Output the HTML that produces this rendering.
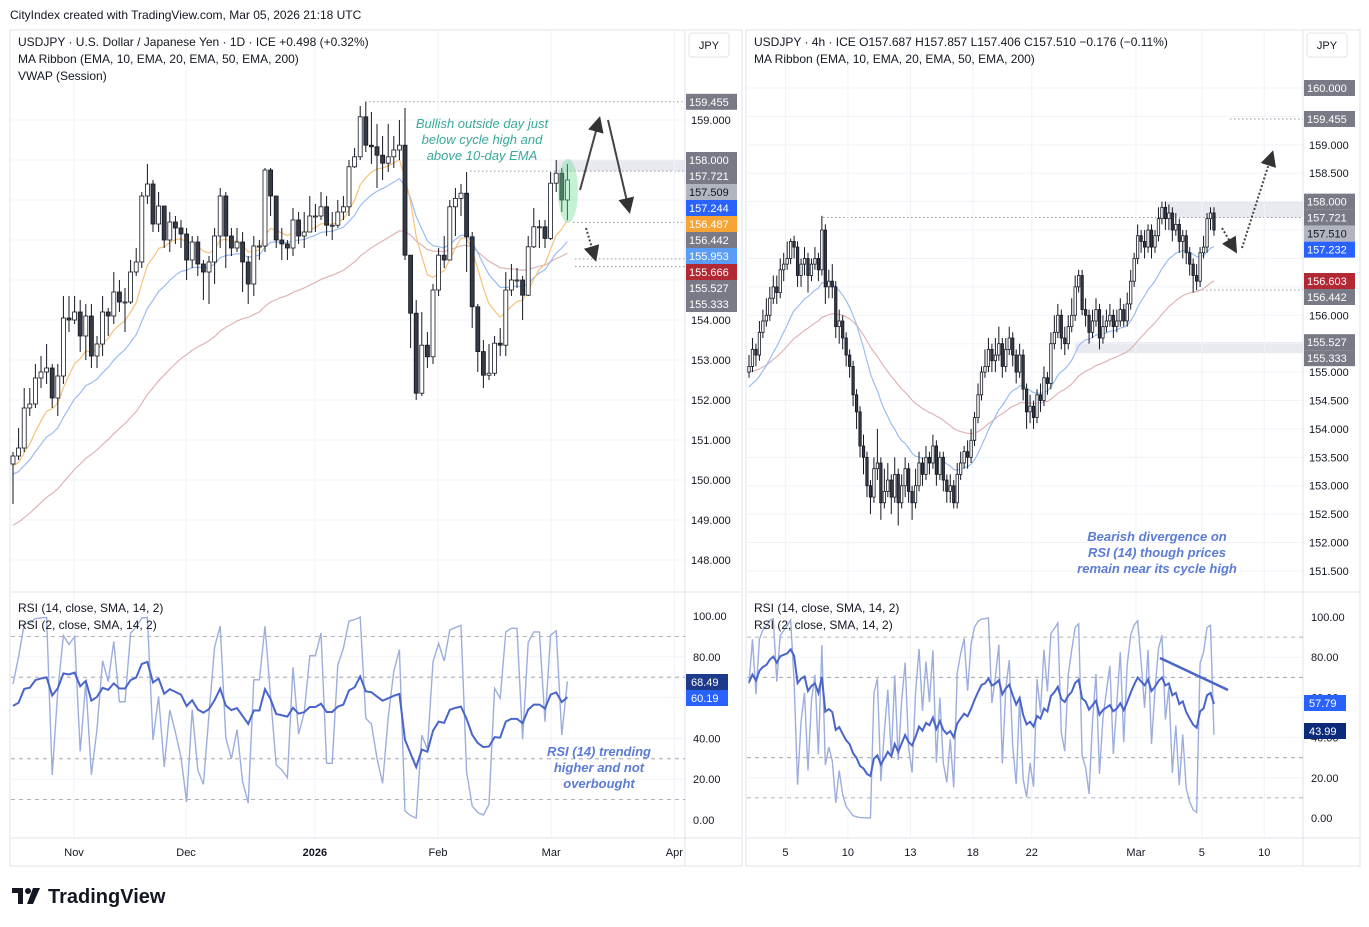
<!DOCTYPE html>
<html><head><meta charset="utf-8"><style>
html,body{margin:0;padding:0;background:#fff;}
svg{display:block;font-family:"Liberation Sans","DejaVu Sans",sans-serif;}
.t{font-size:12px;fill:#131722;}
.ax{font-size:11px;fill:#131722;}
</style></head><body>
<svg id="c" width="1369" height="927" viewBox="0 0 1369 927" xmlns="http://www.w3.org/2000/svg">
<text x="10" y="19" class="t">CityIndex created with TradingView.com, Mar 05, 2026 21:18 UTC</text>
<rect x="10" y="30" width="732" height="836" fill="none" stroke="#e0e3eb"/>
<rect x="746" y="30" width="614" height="836" fill="none" stroke="#e0e3eb"/>
<g id="grid"></g><g id="marks"></g><g id="over"></g>
<text x="18" y="46" class="t">USDJPY · U.S. Dollar / Japanese Yen · 1D · ICE  +0.498 (+0.32%)</text>
<text x="18" y="63" class="t">MA Ribbon (EMA, 10, EMA, 20, EMA, 50, EMA, 200)</text>
<text x="18" y="80" class="t">VWAP (Session)</text>
<text x="754" y="46" class="t">USDJPY · 4h · ICE  O157.687  H157.857  L157.406  C157.510  −0.176 (−0.11%)</text>
<text x="754" y="63" class="t">MA Ribbon (EMA, 10, EMA, 20, EMA, 50, EMA, 200)</text>
<text x="18" y="612" class="t">RSI (14, close, SMA, 14, 2)</text>
<text x="18" y="629" class="t">RSI (2, close, SMA, 14, 2)</text>
<text x="754" y="612" class="t">RSI (14, close, SMA, 14, 2)</text>
<text x="754" y="629" class="t">RSI (2, close, SMA, 14, 2)</text>
<g font-style="italic" font-size="13" fill="#3aa99a" text-anchor="middle">
<text x="482" y="128">Bullish outside day just</text><text x="482" y="144">below cycle high and</text><text x="482" y="160">above 10-day EMA</text></g>
<g font-style="italic" font-weight="bold" font-size="13" fill="#5b7bd5" text-anchor="middle">
<text x="599" y="756">RSI (14) trending</text><text x="599" y="772">higher and not</text><text x="599" y="788">overbought</text></g>
<g font-style="italic" font-weight="bold" font-size="13" fill="#5b7bd5" text-anchor="middle">
<text x="1157" y="541">Bearish divergence on</text><text x="1157" y="557">RSI (14) though prices</text><text x="1157" y="573">remain near its cycle high</text></g>
<g>
<rect x="12" y="888" width="11" height="5" fill="#131722"/><rect x="18" y="888" width="5" height="16" fill="#131722"/>
<circle cx="28" cy="891" r="3" fill="#131722"/><polygon points="33,888 40,888 33,904 27,904" fill="#131722"/>
<text x="48" y="903" font-size="20" font-weight="bold" fill="#131722">TradingView</text></g>
</svg>
<script>
// ---------- data ----------
const closeL=[150.6,150.8,151.8,151.9,152.55,152.7,152.8,152.05,152.6,154.05,154.0,154.2,153.6,154.1,153.1,153.4,154.2,154.1,154.7,154.45,154.45,155.2,155.45,157.1,157.4,156.4,156.85,156.0,156.45,156.3,156.15,155.5,155.95,155.4,155.2,155.45,156.1,157.1,156.1,155.8,155.95,155.45,154.9,155.85,155.85,157.75,157.1,156.0,155.9,155.8,156.5,156.1,156.2,156.6,156.6,156.83,156.37,156.37,156.7,156.83,157.83,158.08,159.08,158.37,158.33,158.12,157.92,158.08,158.25,158.37,155.62,154.17,152.17,153.37,153.08,154.75,155.62,155.5,156.83,157.04,157.17,156.08,154.33,153.21,152.62,152.67,153.42,153.37,154.75,155.0,155.0,154.62,155.83,156.33,156.33,156.04,157.42,157.67,157.0,157.5];
const highL=[150.7,151.3,152.3,152.3,152.9,153.1,153.4,152.9,152.9,154.6,154.6,154.6,154.5,154.4,154.4,153.6,154.6,154.3,155.2,155.0,154.8,155.5,155.8,157.2,157.9,157.5,157.2,156.7,156.7,156.6,156.5,156.3,156.1,156.1,155.5,155.6,156.3,157.3,157.2,156.3,156.3,156.2,155.6,156.1,156.0,157.8,157.8,157.1,156.3,156.0,156.8,156.7,156.7,157.1,156.9,157.2,157.1,156.7,157.0,157.1,158.0,158.3,159.35,159.45,159.2,158.9,158.6,158.9,158.6,159.0,159.3,155.5,154.5,154.2,153.7,154.9,155.8,156.1,157.0,157.3,157.4,157.7,156.2,154.4,153.5,153.4,153.6,153.8,155.2,155.4,155.3,155.1,156.1,156.8,156.5,156.5,157.7,158.0,157.8,157.9];
const lowL=[149.4,150.5,150.7,151.6,151.8,152.3,152.4,151.8,151.6,152.4,153.7,153.9,153.2,153.0,152.8,152.8,153.1,153.6,153.9,154.2,153.7,154.4,155.1,155.3,156.9,156.2,156.2,155.8,155.7,155.9,155.8,155.0,155.3,155.1,154.5,154.4,154.9,155.8,155.3,155.6,155.7,154.7,154.4,154.6,155.5,155.7,156.6,155.8,155.5,155.5,155.6,155.9,155.8,156.3,156.2,156.5,156.1,156.0,156.3,156.5,156.6,157.8,158.0,158.2,157.9,157.3,157.5,157.7,157.8,158.0,155.5,153.3,152.0,152.1,152.8,152.9,154.6,155.3,155.5,156.1,156.6,155.2,153.8,152.7,152.3,152.5,152.6,153.1,153.1,154.6,154.8,154.0,154.6,155.8,155.8,155.8,156.0,157.2,156.7,156.5];
const closeR=[155.1,155.4,155.3,155.7,155.9,156.0,156.3,156.5,156.4,156.8,156.9,157.0,157.3,157.2,156.7,156.9,157.0,156.7,156.9,157.0,156.8,157.5,156.5,156.6,156.5,155.8,155.9,155.6,155.3,155.1,154.6,154.3,153.7,153.5,153.0,152.8,153.3,153.4,152.7,152.9,153.1,152.8,153.2,152.7,153.0,153.3,152.9,152.7,153.0,153.4,153.2,153.5,153.4,153.7,153.2,153.5,153.1,152.9,153.0,152.7,153.2,153.4,153.6,153.5,153.8,154.2,154.6,155.0,155.1,155.4,155.2,155.3,155.5,155.1,155.4,155.6,155.3,155.0,155.3,154.7,154.3,154.4,154.2,154.6,154.5,154.9,154.8,155.5,155.7,156.0,155.6,155.5,155.8,156.0,156.5,156.7,156.1,156.0,155.7,155.9,156.1,155.6,155.8,155.9,156.0,155.8,155.9,156.1,155.9,156.2,156.6,157.0,157.4,157.3,157.2,157.5,157.2,157.4,157.7,157.9,157.7,157.8,157.5,157.6,157.3,157.4,157.1,156.9,156.7,156.6,157.1,157.2,157.7,157.8,157.5];
const highR=[155.3,155.6,155.5,155.9,156.1,156.3,156.5,156.7,156.7,157.0,157.1,157.3,157.35,157.4,157.3,157.0,157.2,157.1,157.0,157.2,157.1,157.75,157.6,156.8,156.9,156.6,156.1,156.0,155.7,155.4,155.2,154.7,154.4,153.9,153.6,153.1,153.5,154.0,153.5,153.3,153.4,153.2,153.5,153.3,153.2,153.5,153.4,153.0,153.3,153.6,153.5,153.7,153.6,153.9,153.8,153.6,153.6,153.2,153.2,153.1,153.4,153.6,153.7,153.8,154.0,154.3,154.8,155.1,155.4,155.6,155.5,155.6,155.8,155.6,155.6,155.8,155.7,155.4,155.5,155.4,154.8,154.6,154.5,154.7,154.8,155.1,155.0,155.7,156.0,156.2,156.1,155.8,156.0,156.3,156.7,156.8,156.8,156.3,156.1,156.1,156.3,156.2,156.0,156.1,156.2,156.1,156.1,156.3,156.2,156.4,156.8,157.1,157.6,157.5,157.5,157.6,157.6,157.5,157.9,158.0,158.0,157.95,157.9,157.8,157.7,157.5,157.5,157.2,157.0,156.9,157.2,157.4,157.8,157.9,157.9];
const lowR=[154.9,155.0,155.1,155.2,155.6,155.8,155.9,156.2,156.2,156.3,156.6,156.8,156.9,157.0,156.5,156.5,156.7,156.4,156.6,156.8,156.6,156.7,156.2,156.3,156.3,155.6,155.5,155.4,155.1,154.9,154.4,154.0,153.5,153.2,152.8,152.5,152.7,153.1,152.4,152.6,152.8,152.5,152.7,152.3,152.6,152.8,152.7,152.4,152.6,152.9,153.0,153.1,153.2,153.3,153.0,153.1,152.9,152.7,152.7,152.6,152.6,153.1,153.3,153.3,153.4,153.7,154.1,154.5,154.9,155.0,155.0,155.0,155.2,154.9,155.0,155.3,155.1,154.8,154.9,154.5,154.0,154.1,154.0,154.1,154.3,154.4,154.6,154.7,155.4,155.6,155.4,155.3,155.4,155.7,155.9,156.4,156.0,155.8,155.5,155.6,155.8,155.4,155.5,155.7,155.8,155.6,155.7,155.8,155.8,155.8,156.1,156.5,156.9,157.1,157.0,157.1,157.0,157.1,157.3,157.6,157.5,157.5,157.3,157.4,157.1,157.0,156.9,156.7,156.4,156.44,156.5,157.0,157.1,157.5,157.4];
const emaSeedL=[150.3,150.1,148.8];   // EMA10, EMA20, EMA50 starting values
const emaSeedR=[154.7,155.0];          // EMA20, EMA50 starting values
const rsiSeedL=[0.25,0.2,0.3,0.2];     // avgGain/avgLoss seeds for RSI14, RSI2
const rsiSeedR=[0.12,0.06,0.15,0.1];
const priceTicksL=[148,149,150,151,152,153,154,155,156,157,158,159,160];
const priceTicksR=[151.5,152,152.5,153,153.5,154,154.5,155,155.5,156,156.5,157,157.5,158,158.5,159,159.5,160];
const rsiTicks=[0,20,40,60,80,100];
const rsiDashed=[10,30,70,90];
const timeLabelsL=["Nov","Dec","2026","Feb","Mar","Apr"];
const timeIdxL=[10.9,30.9,53.9,75.9,96.1,118.1];
const timeLabelsR=["5","10","13","18","22","Mar","5","10"];
const timeIdxR=[10.5,28.5,46.5,64.5,81.5,111.5,130.5,148.5];
const levelsL=[["159.455","#787b86"],["158.000","#787b86"],["157.721","#787b86"],["157.509","#b2b5be"],["157.244","#2962ff"],["156.487","#f7a435"],["156.442","#787b86"],["155.953","#5b9cf6"],["155.666","#b22833"],["155.527","#787b86"],["155.333","#787b86"]];
const levelsR=[["160.000","#787b86"],["159.455","#787b86"],["158.000","#787b86"],["157.721","#787b86"],["157.510","#b2b5be"],["157.232","#2962ff"],["156.603","#b22833"],["156.442","#787b86"],["155.527","#787b86"],["155.333","#787b86"]];
const rsiLabelsL=[["68.49","#1e3a8a"],["60.19","#2962ff"]];
const rsiLabelsR=[["57.79","#2962ff"],["43.99","#0d2a7a"]];

// ---------- axes ----------
const yL=p=>80+(160-p)*40;
const yR=p=>88+(160-p)*56.82;
const xL=i=>13+i*5.6;
const xR=i=>749+i*3.47;
const yRsiL=v=>616+(100-v)*2.04;
const yRsiR=v=>617+(100-v)*2.01;

const NS="http://www.w3.org/2000/svg";
const grid=document.getElementById('grid'),marks=document.getElementById('marks'),over=document.getElementById('over');
function el(tag,attrs,parent,text){const e=document.createElementNS(NS,tag);for(const k in attrs)e.setAttribute(k,attrs[k]);if(text!==undefined)e.textContent=text;parent.appendChild(e);return e;}

function ema(arr,n,seed){const a=2/(n+1);let v=seed;return arr.map(c=>(v=v+a*(c-v)));}
function rsi(arr,n,g0,l0){let g=g0,l=l0,prev=arr[0]-(g0-l0);return arr.map(c=>{const d=c-prev;prev=c;g=(g*(n-1)+Math.max(d,0))/n;l=(l*(n-1)+Math.max(-d,0))/n;return 100-100/(1+g/(l||1e-9));});}

// stack labels so they don't overlap (TradingView-style)
function stack(levels,yf){
  const ys=levels.map(l=>yf(parseFloat(l[0])));
  for(let k=1;k<ys.length;k++){if(ys[k]<ys[k-1]+16)ys[k]=ys[k-1]+16;}
  return ys;
}

function panel(o){
  const lys=stack(o.levels,o.y);
  // grid
  o.ticks.forEach(p=>{const y=o.y(p);if(y<88||y>585)return;
    const g=el('line',{x1:o.x0,x2:o.x1,y1:y,y2:y,stroke:'#f0f3fa'},grid);
    
    
    if(lys.some(ly=>Math.abs(ly-y)<12))return;
    const t=el('text',{x:o.ax+6,y:y+4,class:'ax'},grid,p.toFixed(3));
    
    });
  o.tIdx.forEach((ix,k)=>{const x=o.x(ix);if(x>o.x1)return;
    const g=el('line',{x1:x,x2:x,y1:31,y2:838,stroke:'#f0f3fa'},grid);
    
    
    const t=el('text',{x:x,y:856,class:'ax','text-anchor':'middle','font-weight':o.tLab[k]==='2026'?'bold':'normal'},grid,o.tLab[k]);
    
    });
  [[o.x0,592,o.ax+57,592],[o.x0,838,o.ax+57,838],[o.ax,31,o.ax,866]].forEach(s=>{const l=el('line',{x1:s[0],y1:s[1],x2:s[2],y2:s[3],stroke:'#e0e3eb'},grid);
    
    });
  rsiTicks.forEach(v=>{const y=o.yr(v);
    const t=el('text',{x:o.ax+8,y:y+4,class:'ax'},grid,v.toFixed(2));
    
    
    if(v>0&&v<100){const g=el('line',{x1:o.x0,x2:o.x1,y1:y,y2:y,stroke:'#f0f3fa'},grid);
    
    }});
  rsiDashed.forEach(v=>{const y=o.yr(v);const g=el('line',{x1:o.x0,x2:o.ax,y1:y,y2:y,stroke:'#9598a1','stroke-dasharray':'4,4','stroke-width':0.8},grid);
    
    });
  const jb=el('rect',{x:o.ax+4,y:33,width:40,height:24,fill:'#fff',stroke:'#e0e3eb',rx:3},grid);
  
  
  el('text',{x:o.ax+24,y:49,class:'ax','text-anchor':'middle'},grid,'JPY');
  o.emas.forEach(e=>{const v=ema(o.c,e.n,e.seed);
    const pl=el('polyline',{points:v.map((p,i)=>o.x(i)+','+o.y(p)).join(' '),fill:'none',stroke:e.col,'stroke-width':1.2},marks);
    
    });
  o.c.forEach((c,i)=>{const op=i?o.c[i-1]:o.o0;const x=o.x(i);const up=c>=op;
    const w=el('line',{x1:x,x2:x,y1:o.y(o.h[i]),y2:o.y(o.l[i]),stroke:'#131722','stroke-width':1},marks);
    
    
    const top=o.y(Math.max(c,op)),bh=Math.max(1,o.y(Math.min(c,op))-top);
    const b=el('rect',{x:x-o.cw/2,y:top,width:o.cw,height:bh,fill:up?'#fff':'#363a45',stroke:'#131722','stroke-width':0.8},marks);
    
    });
  const r14=rsi(o.c,14,o.rs[0],o.rs[1]),r2=rsi(o.c,2,o.rs[2],o.rs[3]);
  const l2=el('polyline',{points:r2.map((v,i)=>o.x(i)+','+o.yr(v)).join(' '),fill:'none',stroke:'#9daedd','stroke-width':1.4},marks);
  
  
  const l14=el('polyline',{points:r14.map((v,i)=>o.x(i)+','+o.yr(v)).join(' '),fill:'none',stroke:'#4a65c9','stroke-width':2},marks);
  
  
  o.levels.forEach((lv,k)=>{const y=lys[k];const light=lv[1]==='#b2b5be';
    const r=el('rect',{x:o.ax+1,y:y-8,width:51,height:16,fill:lv[1]},over);
    
    
    el('text',{x:o.ax+4,y:y+4,class:'ax',style:'fill:'+(light?'#131722':'#fff')},over,lv[0]);});
  o.rl.forEach((lv,k)=>{const y=o.rlY[k];
    const r=el('rect',{x:o.ax+1,y:y-8,width:o.rlW,height:16,fill:lv[1]},over);
    
    
    el('text',{x:o.ax+6,y:y+4,class:'ax',style:'fill:#fff'},over,lv[0]);});
}

function dot(x1,x2,y){const l=el('line',{x1:x1,x2:x2,y1:y,y2:y,stroke:'#9598a1','stroke-dasharray':'1.5,2.5'},grid);
  
  }
function band(x1,x2,y1,y2){const r=el('rect',{x:x1,y:y1,width:x2-x1,height:y2-y1,fill:'#e3e5ec',opacity:0.8},grid);
  
  }
band(557,685,yL(158.0),yL(157.721));dot(365,685,yL(159.455));dot(470,685,yL(157.721));dot(557,685,yL(158.0));
dot(573,685,yL(156.442));dot(575,685,yL(155.527));dot(575,685,yL(155.333));
band(1165,1303,yR(158.0),yR(157.721));dot(823,1303,yR(157.721));dot(1165,1303,yR(158.0));
dot(1197,1303,yR(160));dot(1230,1303,yR(159.455));dot(1198,1303,yR(156.442));
band(1075,1303,yR(155.527),yR(155.333));

panel({x0:11,x1:685,ax:685,x:xL,y:yL,yr:yRsiL,c:closeL,h:highL,l:lowL,o0:150.4,cw:4,ticks:priceTicksL,
  tIdx:timeIdxL,tLab:timeLabelsL,emas:[{n:50,seed:emaSeedL[2],col:'#e0b4b4'},{n:20,seed:emaSeedL[1],col:'#9bbdf0'},{n:10,seed:emaSeedL[0],col:'#f5c27a'}],
  rs:rsiSeedL,levels:levelsL,rl:rsiLabelsL,rlY:[682,698],rlW:42});
panel({x0:747,x1:1303,ax:1303,x:xR,y:yR,yr:yRsiR,c:closeR,h:highR,l:lowR,o0:155.0,cw:2.4,ticks:priceTicksR,
  tIdx:timeIdxR,tLab:timeLabelsR,emas:[{n:50,seed:emaSeedR[1],col:'#e0b4b4'},{n:20,seed:emaSeedR[0],col:'#9bbdf0'}],
  rs:rsiSeedR,levels:levelsR,rl:rsiLabelsR,rlY:[703,731],rlW:42});

const hl=el('ellipse',{cx:568,cy:191,rx:10,ry:32,fill:'rgba(110,220,150,0.4)'},marks);


const defs=el('defs',{},over);
const mk=el('marker',{id:'ah',markerWidth:8,markerHeight:8,refX:6,refY:4,orient:'auto'},defs);
el('path',{d:'M0,0 L8,4 L0,8 z',fill:'#333'},mk);
function arrow(x1,y1,x2,y2,dashed,name){const a=el('line',{x1:x1,y1:y1,x2:x2,y2:y2,stroke:'#444','stroke-width':2,'stroke-dasharray':dashed?'2,2':'none','marker-end':'url(#ah)'},over);
  
  }
arrow(580,190,599,120,false,'bull-arrow');
arrow(608,120,629,210,false,'bear-arrow');
arrow(586,228,595,258,true,'pullback-arrow');
arrow(1222,228,1235,250,true,'pullback-arrow-right');
arrow(1242,248,1272,154,true,'rally-arrow-right');
const dv=el('line',{x1:1160,y1:658,x2:1228,y2:690,stroke:'#4a65c9','stroke-width':2.5},over);


</script>
</body></html>
